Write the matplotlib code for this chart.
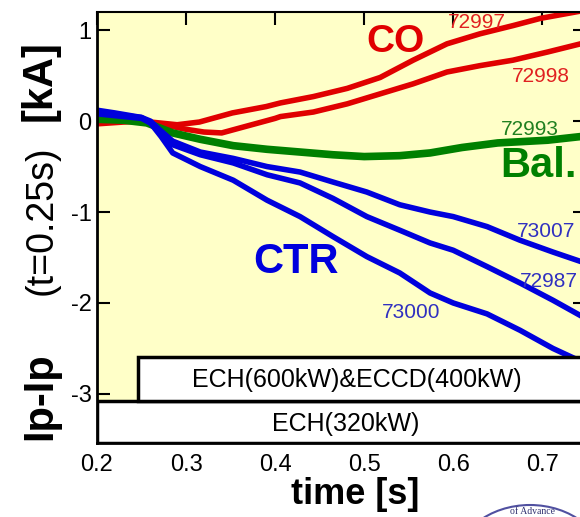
import matplotlib
matplotlib.use("Agg")
import matplotlib.pyplot as plt
from matplotlib.patches import Rectangle, Ellipse

plt.rcParams['font.family'] = ['Liberation Sans', 'DejaVu Sans']
plt.rcParams['axes.unicode_minus'] = False

# shot 72997 (CO, upper red)
t_72997 = [0.20, 0.22, 0.25, 0.27, 0.29, 0.315, 0.352, 0.39, 0.406, 0.443, 0.481,
           0.518, 0.555, 0.593, 0.630, 0.667, 0.698, 0.743]
ip_72997 = [0.02, 0.03, 0.00, -0.02, -0.04, -0.01, 0.09, 0.16, 0.20, 0.27, 0.36,
            0.48, 0.67, 0.85, 0.96, 1.05, 1.13, 1.21]

# shot 72998 (CO, lower red)
t_72998 = [0.20, 0.23, 0.25, 0.28, 0.30, 0.32, 0.34, 0.37, 0.40, 0.406, 0.443, 0.481,
           0.518, 0.555, 0.593, 0.630, 0.667, 0.706, 0.743]
ip_72998 = [-0.03, -0.01, 0.00, -0.05, -0.09, -0.12, -0.13, -0.05, 0.03, 0.05, 0.10, 0.19,
            0.30, 0.41, 0.54, 0.61, 0.67, 0.76, 0.85]

# shot 72993 (balanced, green)
t_72993 = [0.20, 0.23, 0.256, 0.285, 0.316, 0.353, 0.391, 0.428, 0.465, 0.50, 0.54,
           0.574, 0.61, 0.65, 0.706, 0.743]
ip_72993 = [0.02, 0.01, -0.02, -0.13, -0.20, -0.27, -0.31, -0.34, -0.37, -0.39, -0.38,
            -0.35, -0.29, -0.24, -0.21, -0.17]

# CTR shots (blue)
t_ctr = [0.20, 0.22, 0.25, 0.26, 0.272, 0.285, 0.316, 0.353, 0.391, 0.428, 0.465, 0.503,
         0.540, 0.574, 0.600, 0.638, 0.675, 0.712, 0.745]
ip_73007 = [0.10, 0.07, 0.04, 0.00, -0.11, -0.22, -0.34, -0.41, -0.50, -0.56, -0.67, -0.78,
            -0.92, -1.00, -1.05, -1.16, -1.31, -1.44, -1.55]
ip_72987 = [0.08, 0.06, 0.03, -0.02, -0.13, -0.26, -0.37, -0.46, -0.59, -0.68, -0.85, -1.05,
            -1.20, -1.34, -1.42, -1.60, -1.78, -1.97, -2.15]
ip_73000 = [0.12, 0.09, 0.04, -0.02, -0.17, -0.35, -0.50, -0.65, -0.87, -1.05, -1.27, -1.49,
            -1.67, -1.89, -2.00, -2.12, -2.30, -2.50, -2.65]

xticks = [0.2, 0.3, 0.4, 0.5, 0.6, 0.7]
yticks = [-3, -2, -1, 0, 1]

RED = '#e00000'
GREEN = '#008000'
BLUE = '#0000dd'

fig = plt.figure(figsize=(5.8, 5.17), dpi=100)
ax = fig.add_axes([97/580, 1-443/517, (585-97)/580, (443-12)/517])
ax.set_facecolor('#ffffc8')
ax.set_xlim(0.2, 0.748)
ax.set_ylim(-3.54, 1.2)

ax.plot(t_72997, ip_72997, color=RED, lw=4)
ax.plot(t_72998, ip_72998, color=RED, lw=4)
ax.plot(t_72993, ip_72993, color=GREEN, lw=5.5)
ax.plot(t_ctr, ip_73007, color=BLUE, lw=4)
ax.plot(t_ctr, ip_72987, color=BLUE, lw=4)
ax.plot(t_ctr, ip_73000, color=BLUE, lw=4)

# heating phase boxes
ax.add_patch(Rectangle((0.2, -3.54), 0.6, 0.46, facecolor='white',
                       edgecolor='black', lw=2.5, zorder=5))
ax.add_patch(Rectangle((0.246, -3.08), 0.6, 0.49, facecolor='white',
                       edgecolor='black', lw=2.5, zorder=5))
ax.text(0.492, -2.85, 'ECH(600kW)&ECCD(400kW)', fontsize=18, ha='center',
        va='center', zorder=6)
ax.text(0.479, -3.33, 'ECH(320kW)', fontsize=18, ha='center', va='center', zorder=6)

# labels
ax.text(0.535, 0.87, 'CO', color=RED, fontsize=28, fontweight='bold',
        ha='center', va='center')
ax.text(0.653, -0.49, 'Bal.', color=GREEN, fontsize=30, fontweight='bold',
        ha='left', va='center')
ax.text(0.424, -1.55, 'CTR', color=BLUE, fontsize=30, fontweight='bold',
        ha='center', va='center')
ax.text(0.594, 1.09, '72997', color='#e02020', fontsize=15, va='center')
ax.text(0.666, 0.49, '72998', color='#e02020', fontsize=15, va='center')
ax.text(0.653, -0.09, '72993', color='#208020', fontsize=15, va='center')
ax.text(0.672, -1.21, '73007', color='#3030c0', fontsize=15, va='center')
ax.text(0.675, -1.76, '72987', color='#3030c0', fontsize=15, va='center')
ax.text(0.520, -2.10, '73000', color='#3030c0', fontsize=15, va='center')

ax.set_xticks(xticks)
ax.set_xticklabels([f'{x:.1f}' for x in xticks])
ax.set_yticks(yticks)
ax.tick_params(direction='in', length=9, width=1.5, labelsize=17,
               top=True, right=True)
ax.xaxis.set_tick_params(which='major', length=9, top=True, bottom=False, pad=8)
ax.tick_params(axis='y', pad=4)
for s in ax.spines.values():
    s.set_linewidth(2)
ax.spines['top'].set_linewidth(1.5)

# axis titles
fig.text(40/580, 1-440/517, 'Ip-Ip', rotation=90, fontsize=30, fontweight='bold',
         ha='center', va='bottom')
fig.text(42/580, 1-220/517, '(t=0.25s)', rotation=90, fontsize=27,
         ha='center', va='center')
fig.text(40/580, 1-81/517, '[kA]', rotation=90, fontsize=30, fontweight='bold',
         ha='center', va='center')
fig.text(355/580, 1-495/517, 'time [s]', fontsize=26, fontweight='bold',
         ha='center', va='center')

# partial institute logo at bottom right
fig.patches.append(Ellipse((530/580, 1-565/517), 150/580, 120/517,
                           transform=fig.transFigure, facecolor='white',
                           edgecolor='#5050a0', lw=1.5))
fig.text(532/580, 1-512/517, 'of Advance', fontsize=7, color='#303070',
         ha='center', va='center', family='Liberation Serif')

fig.savefig('out.png', dpi=100)
